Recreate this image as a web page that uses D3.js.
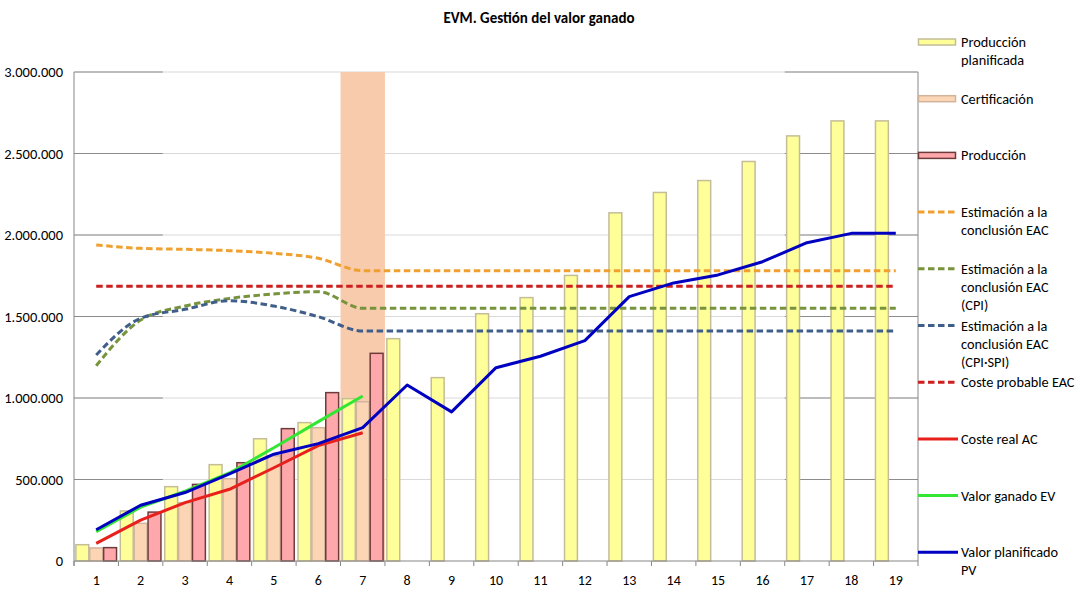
<!DOCTYPE html>
<html>
<head>
<meta charset="utf-8">
<script src="https://cdn.jsdelivr.net/npm/d3@7"></script>
<style>
  body { margin: 0; background: #fff; }
  svg { display: block; font-family: Carlito, Lato, "Liberation Sans", sans-serif; }
</style>
</head>
<body>
<svg id="chart" width="1079" height="605"></svg>
<script>
// periods (x axis categories)
const periods = [1, 2, 3, 4, 5, 6, 7, 8, 9, 10, 11, 12, 13, 14, 15, 16, 17, 18, 19];
const yTicks = [0, 500000, 1000000, 1500000, 2000000, 2500000, 3000000];
const currentPeriod = 7;

// bar series
const produccionPlanificada = [100000, 307000, 456000, 591000, 750000, 849000, 996000, 1364000, 1125000, 1517000,
                               1616000, 1752000, 2136000, 2261000, 2334000, 2451000, 2608000, 2700000, 2700000];
const certificacion = [80000, 231000, 358000, 505000, 645000, 818000, 977000];
const produccion = [82000, 300000, 470000, 603000, 812000, 1033000, 1274000];

// line series
const eac = [1939000, 1918000, 1912000, 1904000, 1888000, 1857000, 1781000, 1781000, 1781000, 1781000,
             1781000, 1781000, 1781000, 1781000, 1781000, 1781000, 1781000, 1781000, 1781000];
const eacCpi = [1198000, 1478000, 1564000, 1611000, 1638000, 1652000, 1550000, 1550000, 1550000, 1550000,
                1550000, 1550000, 1550000, 1550000, 1550000, 1550000, 1550000, 1550000, 1550000];
const eacCpiSpi = [1264000, 1489000, 1544000, 1597000, 1564000, 1499000, 1411000, 1411000, 1411000, 1411000,
                   1411000, 1411000, 1411000, 1411000, 1411000, 1411000, 1411000, 1411000, 1411000];
const costeProbable = [1685000, 1685000, 1685000, 1685000, 1685000, 1685000, 1685000, 1685000, 1685000, 1685000,
                       1685000, 1685000, 1685000, 1685000, 1685000, 1685000, 1685000, 1685000, 1685000];
const costeReal = [108000, 251000, 358000, 440000, 572000, 708000, 787000];
const valorGanado = [180000, 330000, 428000, 540000, 695000, 855000, 1012000];
const valorPlanificado = [192000, 342000, 420000, 535000, 655000, 720000, 818000, 1080000, 915000, 1186000,
                          1256000, 1352000, 1622000, 1706000, 1755000, 1836000, 1953000, 2010000, 2010000];

// series styling
const barSeries = [
  {key: "plan", name: ["Producción", "planificada"], values: produccionPlanificada, fill: "#ffff99", stroke: "#c4bd97"},
  {key: "cert", name: ["Certificación"], values: certificacion, fill: "#fcd5b5", stroke: "#d0b49c"},
  {key: "prod", name: ["Producción"], values: produccion, fill: "#ffa8ac", stroke: "#6e3b3b"}
];
const lineSeries = [
  {name: ["Estimación a la", "conclusión EAC"], values: eac, color: "#f0a030", dashed: true},
  {name: ["Estimación a la", "conclusión EAC", "(CPI)"], values: eacCpi, color: "#77933c", dashed: true},
  {name: ["Estimación a la", "conclusión EAC", "(CPI·SPI)"], values: eacCpiSpi, color: "#3f5f8a", dashed: true},
  {name: ["Coste probable EAC"], values: costeProbable, color: "#cc1f1f", dashed: true},
  {name: ["Coste real AC"], values: costeReal, color: "#e8201c", dashed: false},
  {name: ["Valor ganado EV"], values: valorGanado, color: "#33e633", dashed: false},
  {name: ["Valor planificado", "PV"], values: valorPlanificado, color: "#0000c0", dashed: false}
];

const svg = d3.select("#chart");
const plot = {left: 74, right: 918, top: 72, bottom: 561};

const x = d3.scaleBand().domain(periods).range([plot.left, plot.right]);
const xs = d3.scaleBand().domain(barSeries.map(d => d.key)).range([0, x.bandwidth()]).paddingOuter(0.1);
const y = d3.scaleLinear().domain([0, 3000000]).range([plot.bottom, plot.top]);
const fmt = d3.formatLocale({decimal: ",", thousands: ".", grouping: [3], currency: ["", "€"]}).format(",d");

// title
svg.append("text")
  .attr("x", 539).attr("y", 23)
  .attr("text-anchor", "middle")
  .style("font-size", "15px").style("font-weight", "bold")
  .text("EVM. Gestión del valor ganado");

// gridlines (light), with the darker stretches seen in the original
const grid = svg.append("g").attr("class", "grid");
grid.selectAll("line.light").data(yTicks.slice(1)).join("line")
  .attr("class", "light")
  .attr("x1", plot.left).attr("x2", plot.right)
  .attr("y1", d => y(d)).attr("y2", d => y(d))
  .attr("stroke", "#d9d9d9").attr("stroke-width", 1);
grid.selectAll("line.darkL").data(yTicks.slice(1)).join("line")
  .attr("class", "darkL")
  .attr("x1", plot.left).attr("x2", x(2) + x.bandwidth())
  .attr("y1", d => y(d)).attr("y2", d => y(d))
  .attr("stroke", "#8c8c8c").attr("stroke-width", 1);
grid.selectAll("line.darkR").data(yTicks.slice(1)).join("line")
  .attr("class", "darkR")
  .attr("x1", x(17)).attr("x2", plot.right)
  .attr("y1", d => y(d)).attr("y2", d => y(d))
  .attr("stroke", "#8c8c8c").attr("stroke-width", 1);

// current period highlight
svg.append("rect")
  .attr("x", x(currentPeriod)).attr("width", x.bandwidth())
  .attr("y", y(3000000)).attr("height", y(0) - y(3000000))
  .attr("fill", "#f9cbad");

// bars
barSeries.forEach(s => {
  svg.append("g").selectAll("rect").data(s.values).join("rect")
    .attr("x", (d, i) => x(periods[i]) + xs(s.key) + 0.5)
    .attr("width", xs.bandwidth() - 1)
    .attr("y", d => y(d))
    .attr("height", d => y(0) - y(d))
    .attr("fill", s.fill)
    .attr("stroke", s.stroke)
    .attr("stroke-width", 1.5);
});

// lines (the estimates are smoothed, the actuals are straight)
lineSeries.forEach(s => {
  const line = d3.line()
    .x((d, i) => x(periods[i]) + x.bandwidth() / 2)
    .y(d => y(d))
    .curve(s.dashed ? d3.curveMonotoneX : d3.curveLinear);
  svg.append("path")
    .datum(s.values)
    .attr("d", line)
    .attr("fill", "none")
    .attr("stroke", s.color)
    .attr("stroke-width", 3)
    .attr("stroke-linejoin", "round")
    .attr("stroke-dasharray", s.dashed ? "6.5,3.5" : null);
});

// axes
svg.append("line")
  .attr("x1", plot.left).attr("x2", plot.left)
  .attr("y1", plot.top).attr("y2", plot.bottom + 5)
  .attr("stroke", "#868686");
svg.append("line")
  .attr("x1", plot.right).attr("x2", plot.right)
  .attr("y1", plot.top).attr("y2", plot.bottom + 5)
  .attr("stroke", "#868686");
svg.append("line")
  .attr("x1", plot.left).attr("x2", plot.right)
  .attr("y1", plot.bottom).attr("y2", plot.bottom)
  .attr("stroke", "#868686");
svg.append("g").selectAll("line").data(periods).join("line")
  .attr("x1", d => x(d)).attr("x2", d => x(d))
  .attr("y1", plot.bottom).attr("y2", plot.bottom + 5)
  .attr("stroke", "#868686");
svg.append("g").selectAll("text").data(periods).join("text")
  .attr("x", d => x(d) + x.bandwidth() / 2)
  .attr("y", plot.bottom + 24)
  .attr("text-anchor", "middle")
  .style("font-size", "14px")
  .text(d => d);
svg.append("g").selectAll("text").data(yTicks).join("text")
  .attr("x", plot.left - 11)
  .attr("y", d => y(d))
  .attr("dy", "0.35em")
  .attr("text-anchor", "end")
  .style("font-size", "14.5px")
  .text(d => fmt(d));

// legend
const legendItems = barSeries.map(s => ({type: "bar", ...s})).concat(lineSeries.map(s => ({type: "line", ...s})));
const legend = svg.append("g").selectAll("g").data(legendItems).join("g")
  .attr("transform", (d, i) => `translate(918, ${42 + i * 56.7})`);
legend.filter(d => d.type === "bar").append("rect")
  .attr("x", 0.5).attr("y", -3).attr("width", 37).attr("height", 6)
  .attr("fill", d => d.fill).attr("stroke", d => d.stroke).attr("stroke-width", 1.5);
legend.filter(d => d.type === "line").append("line")
  .attr("x1", 0).attr("x2", 40).attr("y1", 0).attr("y2", 0)
  .attr("stroke", d => d.color).attr("stroke-width", 3)
  .attr("stroke-dasharray", d => d.dashed ? "6.5,3.5" : null);
legend.append("text")
  .attr("x", 43)
  .style("font-size", "14.3px")
  .selectAll("tspan").data(d => d.name).join("tspan")
    .attr("x", 43)
    .attr("y", (d, i) => i * 18)
    .attr("dy", "0.35em")
    .text(d => d);
</script>
</body>
</html>
